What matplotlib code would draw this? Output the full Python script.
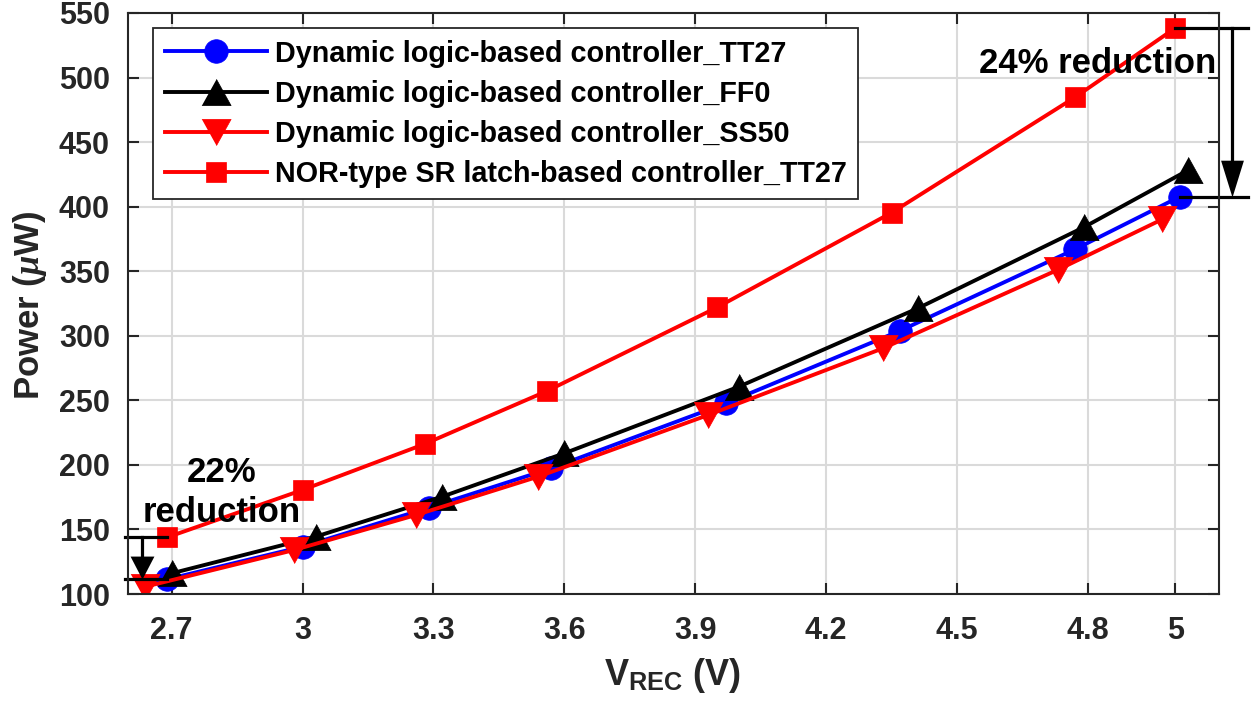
import matplotlib
matplotlib.use('Agg')
import matplotlib.pyplot as plt

plt.rcParams['font.family'] = ['Liberation Sans', 'DejaVu Sans']
plt.rcParams['font.weight'] = 'bold'
plt.rcParams['mathtext.fontset'] = 'custom'
plt.rcParams['mathtext.rm'] = 'Liberation Sans:bold'
plt.rcParams['mathtext.bf'] = 'Liberation Sans:bold'
plt.rcParams['mathtext.it'] = 'Liberation Serif:italic'

# ---------------- data ----------------
series_labels = [
    'Dynamic logic-based controller_TT27',
    'Dynamic logic-based controller_FF0',
    'Dynamic logic-based controller_SS50',
    'NOR-type SR latch-based controller_TT27',
]
v_dyn_tt27 = [2.69, 3.00, 3.29, 3.57, 3.97, 4.37, 4.77, 5.01]
p_dyn_tt27 = [111.4, 136.7, 166.9, 197.4, 247.7, 304.0, 367.0, 407.7]
v_dyn_ff0 = [2.70, 3.03, 3.32, 3.60, 4.00, 4.41, 4.79, 5.03]
p_dyn_ff0 = [116.0, 144.4, 175.4, 209.0, 260.6, 321.3, 384.0, 428.4]
v_dyn_ss50 = [2.64, 2.98, 3.26, 3.54, 3.93, 4.33, 4.73, 4.97]
p_dyn_ss50 = [105.7, 134.0, 161.2, 190.9, 238.7, 290.3, 351.0, 390.2]
v_nor_tt27 = [2.69, 3.00, 3.28, 3.56, 3.95, 4.35, 4.77, 5.00]
p_nor_tt27 = [143.9, 180.6, 216.2, 257.2, 322.0, 395.4, 484.7, 538.4]

x_ticks = [2.7, 3.0, 3.3, 3.6, 3.9, 4.2, 4.5, 4.8, 5.0]
x_ticklabels = ['2.7', '3', '3.3', '3.6', '3.9', '4.2', '4.5', '4.8', '5']
y_ticks = [100, 150, 200, 250, 300, 350, 400, 450, 500, 550]
y_ticklabels = [str(v) for v in y_ticks]

# ---------------- figure ----------------
W, H = 1255, 706
fig = plt.figure(figsize=(W / 100, H / 100), dpi=100)
ax = fig.add_axes([128 / W, 1 - 594 / H, (1219 - 128) / W, (594 - 13) / H])

axcol = '#262626'
tri_up = [(-1, -0.9), (1, -0.9), (0, 0.9)]
tri_dn = [(-1, 0.9), (1, 0.9), (0, -0.9)]
lw = 2.8

ax.plot(v_dyn_tt27, p_dyn_tt27, color='#0000FF', lw=lw, marker='o', ms=17,
        mec='#0000FF', mew=0.5, label=series_labels[0])
ax.plot(v_dyn_ff0, p_dyn_ff0, color='#000000', lw=lw, marker=tri_up, ms=21,
        mec='#000000', mew=0.5, label=series_labels[1])
ax.plot(v_dyn_ss50, p_dyn_ss50, color='#FF0000', lw=lw, marker=tri_dn, ms=21,
        mec='#FF0000', mew=0.5, label=series_labels[2])
ax.plot(v_nor_tt27, p_nor_tt27, color='#FF0000', lw=lw, marker='s', ms=14,
        mec='#FF0000', mew=0.5, label=series_labels[3])

ax.set_xlim(2.6, 5.1)
ax.set_ylim(100, 550)
ax.set_xticks(x_ticks)
ax.set_xticklabels(x_ticklabels)
ax.set_yticks(y_ticks)
ax.set_yticklabels(y_ticklabels)
ax.grid(True, color='#dadada', lw=1.5)
ax.set_axisbelow(True)
for s in ax.spines.values():
    s.set_color(axcol)
    s.set_linewidth(1.5)
ax.tick_params(direction='in', length=8, width=1.5, color=axcol,
               top=True, right=True, labelsize=22, labelcolor=axcol)
ax.tick_params(axis='y', pad=13)
ax.tick_params(axis='x', pad=15.5)
for lab in ax.get_xticklabels() + ax.get_yticklabels():
    lab.set_fontweight('bold')

# axis labels
fig.text(30 / W, 1 - 305 / H, 'Power ($\\mu$W)', rotation=90, ha='center',
         va='center', fontsize=25, fontweight='bold', color=axcol)
fig.text(673 / W, 1 - 685 / H, 'V$_{\\mathrm{REC}}$ (V)', ha='center',
         va='baseline', fontsize=26, fontweight='bold', color=axcol)

# legend
leg = ax.legend(loc='upper left', bbox_to_anchor=(153 / W, 1 - 28 / H),
                bbox_transform=fig.transFigure, borderaxespad=0, fontsize=20.7,
                handlelength=3.55, handletextpad=0.28, labelspacing=0.42,
                borderpad=0.4, frameon=True, fancybox=False,
                edgecolor=axcol, framealpha=1)
leg.get_frame().set_linewidth(1.3)
for t in leg.get_texts():
    t.set_fontweight('bold')

# ---------------- annotations ----------------
# upper right: 24 % reduction
xa_r = 5.1303
xe_r = 5.167
top_r = p_nor_tt27[-1]
bot_r = p_dyn_tt27[-1]
ax.plot([v_nor_tt27[-1], xe_r], [top_r, top_r], color='k', lw=2.3, clip_on=False)
ax.plot([v_dyn_tt27[-1], xe_r], [bot_r, bot_r], color='k', lw=2.3, clip_on=False)
ax.plot([xa_r, xa_r], [top_r, bot_r + 10], color='k', lw=2.3, clip_on=False)
ax.plot([xa_r], [bot_r], marker=[(0, 0), (-0.31, 1), (0.31, 1)], ms=53,
        color='k', mew=0, clip_on=False)
ax.text(4.823, 503.6, '24% reduction', ha='center', va='baseline',
        fontsize=25, fontweight='bold', color='k')

# lower left: 22 % reduction
xa_l = 2.631
xs_l = 2.593
top_l = p_nor_tt27[0]
bot_l = p_dyn_tt27[0]
ax.plot([xs_l, v_nor_tt27[0]], [top_l, top_l], color='k', lw=2.3, clip_on=False)
ax.plot([xs_l, v_dyn_tt27[0]], [bot_l, bot_l], color='k', lw=2.3, clip_on=False)
ax.plot([xa_l, xa_l], [top_l, bot_l + 8], color='k', lw=2.3, clip_on=False)
ax.plot([xa_l], [bot_l], marker=[(0, 0), (-0.52, 1), (0.52, 1)], ms=33,
        color='k', mew=0, clip_on=False)
ax.text(2.815, 186.8, '22%', ha='center', va='baseline',
        fontsize=25, fontweight='bold', color='k')
ax.text(2.815, 155.8, 'reduction', ha='center', va='baseline',
        fontsize=25, fontweight='bold', color='k')

fig.savefig('out.png', dpi=100)
